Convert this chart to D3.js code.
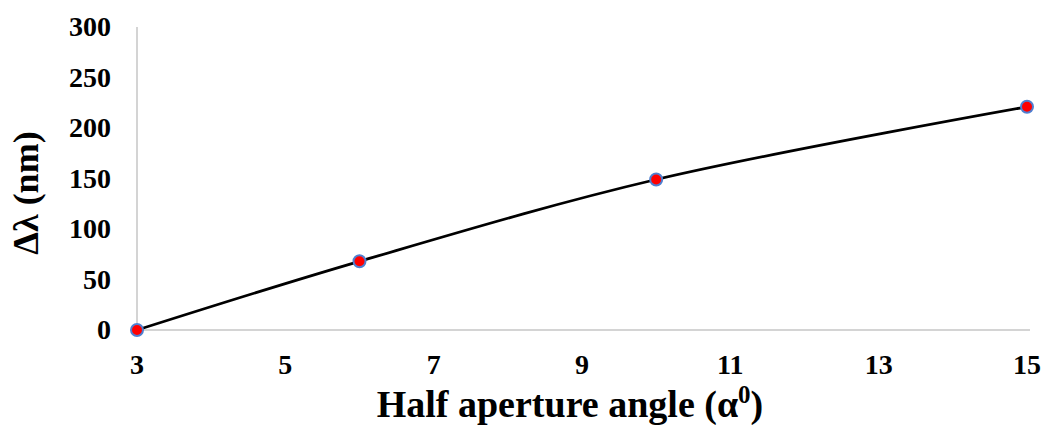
<!DOCTYPE html>
<html>
<head>
<meta charset="utf-8">
<script src="https://cdn.jsdelivr.net/npm/d3@7"></script>
<style>
  html, body { margin: 0; padding: 0; background: #fff; }
  svg { display: block; }
  text { font-family: "Liberation Serif", "Times New Roman", serif; font-weight: bold; fill: #000; }
</style>
</head>
<body>
<svg id="chart" width="1045" height="425"></svg>
<script>
// Half aperture angle (degrees) vs. wavelength shift (nm)
const angles = [3, 6, 10, 15];
const shifts = [0, 68, 149, 221];
const xTicks = [3, 5, 7, 9, 11, 13, 15];
const yTicks = [0, 50, 100, 150, 200, 250, 300];

const svg = d3.select("#chart");
const plot = { left: 137, right: 1027, top: 27, bottom: 330 };

const x = d3.scaleLinear().domain([3, 15]).range([plot.left, plot.right]);
const y = d3.scaleLinear().domain([0, 300]).range([plot.bottom, plot.top]);

// axis lines
svg.append("line")
  .attr("x1", x(3)).attr("x2", x(3))
  .attr("y1", y(300)).attr("y2", y(0))
  .attr("stroke", "#c6c6c6").attr("stroke-width", 1.5);
svg.append("line")
  .attr("x1", x(3)).attr("x2", x(15) + 3)
  .attr("y1", y(0)).attr("y2", y(0))
  .attr("stroke", "#c6c6c6").attr("stroke-width", 1.5);

// tick labels
svg.selectAll("text.ytick").data(yTicks).enter().append("text")
  .attr("class", "ytick")
  .attr("x", 111).attr("y", d => y(d))
  .attr("dy", "0.33em")
  .attr("text-anchor", "end")
  .attr("font-size", 28)
  .text(d => d);

svg.selectAll("text.xtick").data(xTicks).enter().append("text")
  .attr("class", "xtick")
  .attr("x", d => x(d)).attr("y", 374)
  .attr("text-anchor", "middle")
  .attr("font-size", 28)
  .text(d => d);

// axis titles
const xt = svg.append("text")
  .attr("x", 570).attr("y", 417)
  .attr("text-anchor", "middle")
  .attr("font-size", 38);
xt.append("tspan").text("Half aperture angle (α");
xt.append("tspan").attr("font-size", 25).attr("dy", -14).text("0");
xt.append("tspan").attr("dy", 14).text(")");

svg.append("text")
  .attr("transform", "translate(38,193) rotate(-90)")
  .attr("text-anchor", "middle")
  .attr("font-size", 36)
  .text("Δλ (nm)");

// smooth curve through the measurements
const pts = angles.map((a, i) => [a, shifts[i]]);
const line = d3.line()
  .x(d => x(d[0])).y(d => y(d[1]))
  .curve(d3.curveCatmullRom.alpha(0.5));

svg.append("path")
  .datum(pts)
  .attr("d", line)
  .attr("fill", "none")
  .attr("stroke", "#000")
  .attr("stroke-width", 2.8);

// markers
svg.selectAll("circle.pt").data(pts).enter().append("circle")
  .attr("class", "pt")
  .attr("cx", d => x(d[0])).attr("cy", d => y(d[1]))
  .attr("r", 6)
  .attr("fill", "#ff0000")
  .attr("stroke", "#4f7fd0")
  .attr("stroke-width", 2);
</script>
</body>
</html>
